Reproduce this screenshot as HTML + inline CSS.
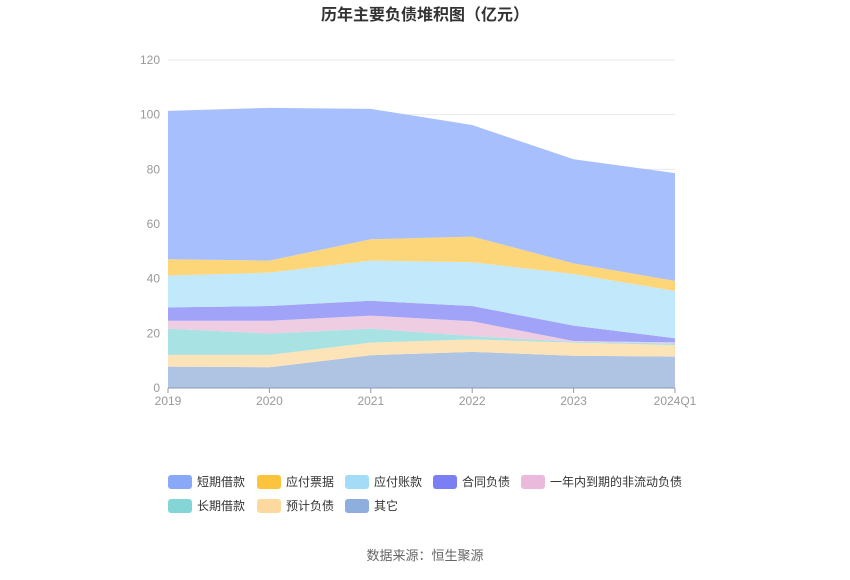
<!DOCTYPE html>
<html><head><meta charset="utf-8"><style>
body{margin:0;background:#fff;font-family:"Liberation Sans","Noto Sans CJK SC",sans-serif;}
</style></head><body>
<svg width="850" height="575" xmlns="http://www.w3.org/2000/svg" font-family="Liberation Sans, Noto Sans CJK SC, sans-serif">
<rect width="850" height="575" fill="#fff"/>
<text x="425" y="20" text-anchor="middle" font-size="16" font-weight="bold" fill="#333">历年主要负债堆积图（亿元）</text>
<g id="grid"></g><g id="areas"></g><g id="axes"></g><g id="legend"></g>
<text x="425" y="560" text-anchor="middle" font-size="13" fill="#666">数据来源：恒生聚源</text>
</svg>
<script>
const categories=["2019","2020","2021","2022","2023","2024Q1"];
const yTicks=[0,20,40,60,80,100,120];
const seriesNames=["其它","预计负债","长期借款","一年内到期的非流动负债","合同负债","应付账款","应付票据","短期借款"];
const sOther=[7.8,7.6,12.0,13.2,11.8,11.5];
const sProvision=[4.3,4.5,4.6,4.6,4.8,4.2];
const sLongLoan=[9.6,7.8,5.1,1.2,0.3,0.6];
const sCurrentNonCur=[2.9,4.7,4.8,5.4,0.3,0.4];
const sContract=[4.9,5.4,5.4,5.6,5.6,1.5];
const sPayable=[11.6,12.2,14.7,16.0,18.9,17.3];
const sNotes=[6.0,4.4,7.8,9.4,3.9,3.7];
const sShortLoan=[54.3,55.9,47.7,40.8,38.1,39.4];
const seriesVals=[sOther,sProvision,sLongLoan,sCurrentNonCur,sContract,sPayable,sNotes,sShortLoan];
const fills=["#afc3e3","#fde3b8","#a9e2e3","#eecde3","#a0a3f7","#c2e8fb","#fed67a","#a7bffc"];
const legColors=["#8eaedd","#fdd9a0","#84d6d6","#ebb9dc","#7b7ff3","#a4dcf8","#fcc43c","#8aa8f8"];
const slugs=["other","provision","long-term-loan","current-noncurrent","contract-liab","accounts-payable","notes-payable","short-term-loan"];
const NS="http://www.w3.org/2000/svg";
const X0=168,X1=675,Y0=388,YT=60,YMAX=120;
const xs=i=>X0+(X1-X0)*i/(categories.length-1);
const ys=v=>Y0-(Y0-YT)*v/YMAX;
function mk(t,a,p){const e=document.createElementNS(NS,t);for(const k in a)e.setAttribute(k,a[k]);p.appendChild(e);return e;}
const grid=document.getElementById('grid'),axes=document.getElementById('axes'),areas=document.getElementById('areas'),leg=document.getElementById('legend');
yTicks.forEach(t=>{
 if(t>0){const l=mk('line',{x1:X0,x2:X1,y1:ys(t),y2:ys(t),stroke:'#e6e9f0'},grid);
 
 }
 const tx=mk('text',{x:160,y:ys(t)+4,'text-anchor':'end','font-size':12,fill:'#999'},axes);tx.textContent=t;
 
 
});
let cum=categories.map(()=>0);
seriesVals.forEach((vals,si)=>{
 const low=cum.slice();const high=cum.map((c,i)=>c+vals[i]);cum=high;
 let d='M'+high.map((v,i)=>xs(i)+','+ys(v)).join('L');
 for(let i=low.length-1;i>=0;i--)d+='L'+xs(i)+','+ys(low[i]);
 const p=mk('path',{d:d+'Z',fill:fills[si]},areas);
 
 
});
const ax=mk('line',{x1:X0,x2:X1,y1:Y0,y2:Y0,stroke:'#8e9ab0'},axes);


categories.forEach((c,i)=>{
 mk('line',{x1:xs(i),x2:xs(i),y1:Y0,y2:Y0+5,stroke:'#8e9ab0'},axes);
 const t=mk('text',{x:xs(i),y:405,'text-anchor':'middle','font-size':12,fill:'#999'},axes);t.textContent=c;
 
 
});
const order=[7,6,5,4,3,2,1,0];
const pos=[[168,482],[257,482],[345,482],[433,482],[521,482],[168,506],[257,506],[345,506]];
order.forEach((si,k)=>{
 const [x,y]=pos[k];
 const g=mk('g',{},leg);
 
 
 mk('rect',{x:x,y:y-7,width:24,height:14,rx:3,fill:legColors[si]},g);
 const t=mk('text',{x:x+29,y:y+4,'font-size':12,fill:'#333'},g);t.textContent=seriesNames[si];
});
</script>
</body></html>
